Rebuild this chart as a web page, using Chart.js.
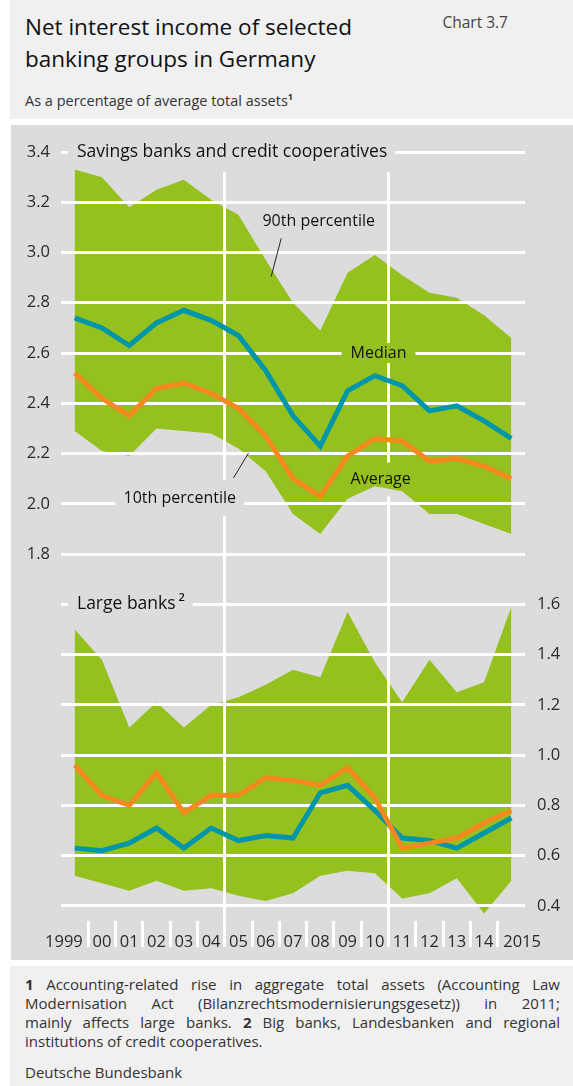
<!DOCTYPE html>
<html>
<head>
<meta charset="utf-8">
<script src="https://cdn.jsdelivr.net/npm/chart.js@4.4.1/dist/chart.umd.min.js"></script>
<style>
  html, body { margin: 0; padding: 0; background: #fff; }
  body { width: 573px; height: 1086px; position: relative; overflow: hidden; font-family: 'Open Sans', sans-serif; color: #1a1a1a; }
  #head { position: absolute; left: 10px; top: 0; width: 563px; height: 119px; background: #f0f0f0; }
  #title { position: absolute; left: 15px; top: 11px; font-size: 22.5px; line-height: 32px; color: #111; }
  #chartno { position: absolute; right: 65px; top: 11px; font-size: 15.5px; color: #444; }
  #sub { position: absolute; left: 15px; top: 90px; font-size: 14.5px; color: #333; }
  #sub sup { font-size: 9px; font-weight: 700; vertical-align: 6px; }
  #panel { position: absolute; left: 11px; top: 125px; width: 562px; height: 835px; background: #dcdcdc; }
  #foot { position: absolute; left: 10px; top: 966px; width: 563px; height: 120px; background: #f0f0f0; }
  #notes { position: absolute; left: 15px; top: 9px; width: 535px; font-size: 15px; line-height: 19px; color: #333; }
  #notes span { display: block; text-align: justify; text-align-last: justify; }
  #notes span.last { text-align-last: left; }
  #src { position: absolute; left: 15px; top: 96px; font-size: 15px; color: #333; }
</style>
</head>
<body>
<div id="head">
  <div id="title">Net interest income of selected<br>banking groups in Germany</div>
  <div id="chartno">Chart 3.7</div>
  <div id="sub">As a percentage of average total assets<sup>1</sup></div>
</div>
<div id="panel"><canvas id="chart" width="562" height="835"></canvas></div>
<div id="foot">
  <div id="notes">
    <span><b>1</b> Accounting-related rise in aggregate total assets (Accounting Law</span>
    <span>Modernisation Act (Bilanzrechtsmodernisierungsgesetz)) in 2011;</span>
    <span>mainly affects large banks. <b>2</b> Big banks, Landesbanken and regional</span>
    <span class="last">institutions of credit cooperatives.</span>
  </div>
  <div id="src">Deutsche Bundesbank</div>
</div>
<script>
// years shown on the axis
const years = ['1999', '00', '01', '02', '03', '04', '05', '06', '07', '08', '09', '10', '11', '12', '13', '14', '2015'];

// savings banks and credit cooperatives
const savingsP90 = [3.33, 3.30, 3.18, 3.25, 3.29, 3.21, 3.15, 2.97, 2.80, 2.69, 2.92, 2.99, 2.91, 2.84, 2.82, 2.75, 2.66];
const savingsP10 = [2.29, 2.21, 2.19, 2.30, 2.29, 2.28, 2.22, 2.13, 1.96, 1.88, 2.02, 2.07, 2.05, 1.96, 1.96, 1.92, 1.88];
const savingsMedian = [2.74, 2.70, 2.63, 2.72, 2.77, 2.73, 2.67, 2.53, 2.35, 2.23, 2.45, 2.51, 2.47, 2.37, 2.39, 2.33, 2.26];
const savingsAverage = [2.52, 2.42, 2.35, 2.46, 2.48, 2.44, 2.38, 2.27, 2.10, 2.03, 2.19, 2.26, 2.25, 2.17, 2.18, 2.15, 2.10];

// large banks
const largeP90 = [1.50, 1.38, 1.11, 1.21, 1.11, 1.20, 1.23, 1.28, 1.34, 1.31, 1.57, 1.37, 1.21, 1.38, 1.25, 1.29, 1.59];
const largeP10 = [0.52, 0.49, 0.46, 0.50, 0.46, 0.47, 0.44, 0.42, 0.45, 0.52, 0.54, 0.53, 0.43, 0.45, 0.51, 0.37, 0.50];
const largeMedian = [0.63, 0.62, 0.65, 0.71, 0.63, 0.71, 0.66, 0.68, 0.67, 0.85, 0.88, 0.78, 0.67, 0.66, 0.63, 0.69, 0.75];
const largeAverage = [0.96, 0.84, 0.80, 0.93, 0.77, 0.84, 0.84, 0.91, 0.90, 0.88, 0.95, 0.83, 0.63, 0.65, 0.67, 0.73, 0.78];

// gridlines; left labels belong to the upper panel, right labels to the lower one
const yTicks = [0.4, 0.6, 0.8, 1.0, 1.2, 1.4, 1.6, 1.8, 2.0, 2.2, 2.4, 2.6, 2.8, 3.0, 3.2, 3.4];
const leftLabels = [1.8, 2.0, 2.2, 2.4, 2.6, 2.8, 3.0, 3.2, 3.4];
const rightLabels = [0.4, 0.6, 0.8, 1.0, 1.2, 1.4, 1.6];

const FONT = "'Open Sans', sans-serif";
const GREEN = '#95c11f';
const BLUE = '#0096aa';
const ORANGE = '#f5891f';

// labels inside the plot (x as category position, y as value)
const notes = [
  { text: 'Savings banks and credit cooperatives', size: 17.5, title: true, y: 3.4 },
  { text: 'Large banks', sup: '2', size: 17.5, title: true, y: 1.6 },
  { text: '90th percentile', size: 16, x: 6.88, y: 3.125, pad: [8, 17] },
  { text: 'Median', size: 16, x: 10.11, y: 2.6, pad: [9, 10] },
  { text: 'Average', size: 16, x: 10.11, y: 2.097, pad: [8, 17] },
  { text: '10th percentile', size: 16, x: 1.79, y: 2.023, pad: [8, 18] }
];
const leaders = [
  [[7.57, 3.057], [7.20, 2.904]],
  [[5.82, 2.103], [6.37, 2.202]]
];

function layoutNotes(chart) {
  const ctx = chart.ctx;
  const xs = chart.scales.x, ys = chart.scales.y;
  return notes.map(n => {
    ctx.font = n.size + 'px ' + FONT;
    let w = ctx.measureText(n.text).width;
    let supW = 0;
    if (n.sup) {
      ctx.font = '600 11px ' + FONT;
      supW = ctx.measureText(n.sup).width + 3;
    }
    const py = ys.getPixelForValue(n.y);
    let px, box;
    if (n.title) {
      px = chart.chartArea.left + 16;
      box = { x: px - 9, y: py - 13, w: w + supW + 17, h: 33 };
    } else {
      px = xs.getPixelForValue(n.x);
      box = { x: px - n.pad[0], y: py - n.pad[1], w: w + 2 * n.pad[0], h: 2 * n.pad[1] };
    }
    return { n, px, py, w, box };
  });
}

const notePlugin = {
  id: 'notes',
  beforeDraw(chart) {
    // fills are already drawn; cut the gridlines where labels sit
    const ctx = chart.ctx;
    ctx.save();
    ctx.beginPath();
    ctx.rect(0, 0, chart.width, chart.height);
    layoutNotes(chart).forEach(l => ctx.rect(l.box.x, l.box.y, l.box.w, l.box.h));
    ctx.clip('evenodd');
  },
  beforeDatasetsDraw(chart) {
    chart.ctx.restore();
  },
  afterDatasetsDraw(chart) {
    const ctx = chart.ctx;
    const xs = chart.scales.x, ys = chart.scales.y;
    ctx.save();
    ctx.fillStyle = '#111';
    ctx.textBaseline = 'middle';
    ctx.textAlign = 'left';
    layoutNotes(chart).forEach(l => {
      ctx.font = l.n.size + 'px ' + FONT;
      ctx.fillText(l.n.text, l.px, l.py);
      if (l.n.sup) {
        ctx.font = '600 11px ' + FONT;
        ctx.fillText(l.n.sup, l.px + l.w + 3, l.py - 6);
      }
    });
    ctx.strokeStyle = '#222';
    ctx.lineWidth = 1;
    leaders.forEach(p => {
      ctx.beginPath();
      ctx.moveTo(xs.getPixelForValue(p[0][0]), ys.getPixelForValue(p[0][1]));
      ctx.lineTo(xs.getPixelForValue(p[1][0]), ys.getPixelForValue(p[1][1]));
      ctx.stroke();
    });
    ctx.restore();
  }
};

const line = (data, color) => ({ data, borderColor: color, borderWidth: 5, fill: false, pointRadius: 0 });
const band = (data, target) => ({ data, borderWidth: 0, borderColor: 'rgba(0,0,0,0)', backgroundColor: GREEN, fill: target, pointRadius: 0 });
const edge = data => ({ data, borderWidth: 0, borderColor: 'rgba(0,0,0,0)', fill: false, pointRadius: 0 });

new Chart(document.getElementById('chart'), {
  type: 'line',
  data: {
    labels: years,
    datasets: [
      line(savingsAverage, ORANGE),
      line(largeAverage, ORANGE),
      line(savingsMedian, BLUE),
      line(largeMedian, BLUE),
      edge(savingsP10),
      band(savingsP90, 4),
      edge(largeP10),
      band(largeP90, 6)
    ]
  },
  options: {
    responsive: false,
    animation: false,
    layout: { padding: { top: 27, left: 0, right: 0, bottom: 0 } },
    plugins: {
      legend: { display: false },
      tooltip: { enabled: false },
      filler: { drawTime: 'beforeDraw' }
    },
    elements: { line: { tension: 0 } },
    scales: {
      x: {
        type: 'category',
        offset: true,
        border: { display: false },
        grid: {
          offset: true,
          lineWidth: 3,
          tickWidth: 3,
          tickLength: 26,
          color: c => (c.index === 6 || c.index === 12) ? '#fff' : 'rgba(0,0,0,0)',
          tickColor: c => (c.index > 0 && c.index < years.length) ? '#fff' : 'rgba(0,0,0,0)'
        },
        ticks: {
          autoSkip: false,
          maxRotation: 0,
          padding: -15,
          color: '#2a2a2a',
          font: { family: FONT, size: 16.5 },
          callback: (v, i) => i === 0 ? years[i] + '     ' : (i === years.length - 1 ? '     ' + years[i] : years[i])
        },
        afterFit: s => { s.height = 39; }
      },
      y: {
        position: 'left',
        min: 0.34,
        max: 3.4,
        afterBuildTicks: s => { s.ticks = yTicks.map(v => ({ value: v })); },
        border: { display: false },
        grid: { color: '#fff', lineWidth: 3, drawTicks: false },
        ticks: {
          padding: 11,
          color: '#2a2a2a',
          font: { family: FONT, size: 16.5 },
          callback: v => leftLabels.some(t => Math.abs(t - v) < 1e-6) ? v.toFixed(1) : ''
        },
        afterFit: s => { s.width = 50; }
      },
      y2: {
        position: 'right',
        min: 0.34,
        max: 3.4,
        afterBuildTicks: s => { s.ticks = yTicks.map(v => ({ value: v })); },
        border: { display: false },
        grid: { display: false, drawTicks: false },
        ticks: {
          padding: 12,
          color: '#2a2a2a',
          font: { family: FONT, size: 16.5 },
          callback: v => rightLabels.some(t => Math.abs(t - v) < 1e-6) ? v.toFixed(1) : ''
        },
        afterFit: s => { s.width = 48; }
      }
    }
  },
  plugins: [notePlugin]
});
</script>
</body>
</html>
